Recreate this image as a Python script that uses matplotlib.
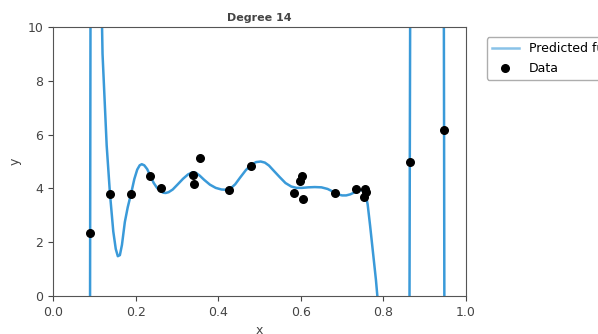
import numpy as np
import matplotlib
matplotlib.use("Agg")
import matplotlib.pyplot as plt

# observed data points
data_x = [0.090, 0.138, 0.189, 0.235, 0.261, 0.340, 0.342, 0.356, 0.426, 0.479,
          0.584, 0.598, 0.603, 0.605, 0.683, 0.734, 0.755, 0.753, 0.757, 0.864, 0.947]
data_y = [2.35, 3.80, 3.80, 4.46, 4.00, 4.50, 4.16, 5.13, 3.94, 4.83,
          3.83, 4.28, 4.46, 3.60, 3.83, 3.98, 3.98, 3.68, 3.87, 5.00, 6.17]

# degree-14 polynomial prediction
fit_x = [0.000, 0.084, 0.090, 0.096, 0.108, 0.114, 0.120, 0.130, 0.138, 0.146,
         0.152, 0.157, 0.162, 0.167, 0.174, 0.181, 0.189, 0.197, 0.204, 0.210,
         0.215, 0.221, 0.228, 0.236, 0.244, 0.252, 0.260, 0.267, 0.273, 0.280,
         0.290, 0.302, 0.315, 0.327, 0.338, 0.346, 0.355, 0.366, 0.380, 0.394,
         0.408, 0.420, 0.430, 0.441, 0.453, 0.467, 0.480, 0.492, 0.503, 0.513,
         0.523, 0.535, 0.549, 0.563, 0.577, 0.590, 0.603, 0.618, 0.634, 0.650,
         0.665, 0.678, 0.690, 0.700, 0.710, 0.720, 0.731, 0.742, 0.751, 0.757,
         0.762, 0.768, 0.775, 0.782, 0.790, 0.800, 0.855, 0.864, 0.873, 0.940,
         0.947, 0.954, 1.000]
fit_y = [-60, -60, 2.35, 60, 60, 14.0, 9.00, 5.60, 3.80, 2.40,
         1.75, 1.48, 1.52, 1.90, 2.75, 3.30, 3.80, 4.35, 4.70, 4.86,
         4.90, 4.86, 4.72, 4.46, 4.20, 4.02, 3.90, 3.84, 3.83, 3.86,
         3.96, 4.15, 4.36, 4.52, 4.60, 4.58, 4.48, 4.32, 4.14, 4.02,
         3.96, 3.95, 4.00, 4.15, 4.40, 4.68, 4.88, 4.98, 5.00, 4.96,
         4.85, 4.65, 4.42, 4.20, 4.07, 4.02, 4.02, 4.04, 4.05, 4.04,
         3.98, 3.88, 3.78, 3.74, 3.74, 3.78, 3.86, 3.93, 3.94, 3.80,
         3.40, 2.60, 1.60, 0.60, -0.8, -60, -60, 5.00, 60, 60,
         6.17, -60, -60]

fig = plt.figure(figsize=(5.98, 3.34), dpi=100)
ax = fig.add_axes([0.0886, 0.1138, 0.6906, 0.8052])

ax.plot(fit_x, fit_y, color='#3a9ad9', linewidth=1.8, label='Predicted function')
ax.scatter(data_x, data_y, color='black', s=30, zorder=3, label='Data')

ax.set_xlim(0, 1)
ax.set_ylim(0, 10)
ax.set_xticks([0.0, 0.2, 0.4, 0.6, 0.8, 1.0])
ax.set_yticks([0, 2, 4, 6, 8, 10])
ax.tick_params(labelsize=9, colors='#444444')
for s in ax.spines.values():
    s.set_color('#555555')
ax.set_xlabel('x', fontsize=9, color='#444444')
ax.set_ylabel('y', fontsize=9, color='#444444')
ax.set_title('Degree 14', fontsize=8, color='#444444', fontweight='bold', pad=4)

leg = ax.legend(loc='upper left', bbox_to_anchor=(1.035, 0.985), fontsize=9,
                frameon=True, edgecolor='#999999', handlelength=2.2)
leg.get_lines()[0].set_alpha(0.6)

fig.savefig('out.png', dpi=100)
